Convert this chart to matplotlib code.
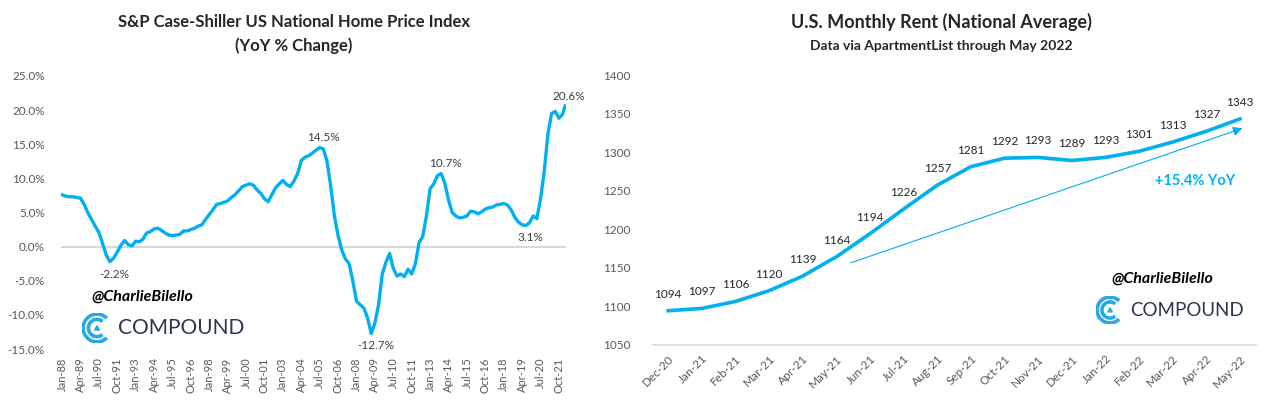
import numpy as np
import pandas as pd
import matplotlib
matplotlib.use('Agg')
import matplotlib.pyplot as plt
from matplotlib.patches import Arc, Polygon

plt.rcParams['font.family'] = ['Lato', 'DejaVu Sans']

# --- Case-Shiller YoY % (quarterly readings, Jan-88 .. Jan-22, plus Mar-22)
cs_yoy = [
    7.6, 7.4, 7.3, 7.3,   7.2, 7.1, 6.2, 5.0,   4.0, 3.0, 2.1, 0.5,
    -1.2, -2.2, -1.7, -0.8,   0.2, 0.9, 0.3, 0.1,   0.8, 0.7, 1.1, 2.0,
    2.2, 2.6, 2.7, 2.4,   2.0, 1.7, 1.6, 1.7,   1.8, 2.3, 2.3, 2.5,
    2.7, 3.0, 3.2, 4.0,   4.7, 5.4, 6.2, 6.3,   6.5, 6.7, 7.2, 7.6,
    8.2, 8.8, 9.0, 9.2,   9.0, 8.3, 7.8, 7.0,   6.6, 7.6, 8.6, 9.2,
    9.7, 9.1, 8.8, 9.6,   10.7, 12.6, 13.1, 13.3,   13.7, 14.1, 14.5, 14.3,
    12.5, 8.8, 4.5, 1.6,   -0.5, -1.8, -2.5, -5.0,   -8.0, -8.5, -9.0, -10.4,
    -12.7, -11.2, -8.5, -4.0,   -2.3, -1.0, -3.2, -4.3,   -4.0, -4.4, -3.3, -4.0,
    -2.5, 0.6, 1.5, 4.5,   8.5, 9.2, 10.4, 10.7,   9.3, 6.8, 5.0, 4.5,
    4.2, 4.3, 4.5, 5.2,   5.1, 4.8, 5.1, 5.5,   5.7, 5.8, 6.1, 6.2,
    6.3, 6.1, 5.4, 4.3,   3.6, 3.2, 3.1, 3.5,   4.5, 4.1, 7.0, 11.0,
    16.5, 19.5, 19.8, 18.8,   19.4, 20.6,
]
cs_dates = list(pd.date_range('1988-01-01', '2022-01-01', freq='QS')) + [pd.Timestamp('2022-03-01')]
cs_notes = {'1991-04-01': '-2.2%', '2005-07-01': '14.5%', '2009-01-01': '-12.7%',
            '2013-10-01': '10.7%', '2019-07-01': '3.1%', '2022-03-01': '20.6%'}

# --- ApartmentList national average rent
rent_months = ['Dec-20', 'Jan-21', 'Feb-21', 'Mar-21', 'Apr-21', 'May-21', 'Jun-21', 'Jul-21',
               'Aug-21', 'Sep-21', 'Oct-21', 'Nov-21', 'Dec-21', 'Jan-22', 'Feb-22', 'Mar-22',
               'Apr-22', 'May-22']
rent = [1094, 1097, 1106, 1120, 1139, 1164, 1194, 1226, 1257, 1281, 1292, 1293, 1289, 1293,
        1301, 1313, 1327, 1343]

BLUE = '#00B0F0'
TXT = '#404040'
TICK = '#595959'


def month_idx(d):
    return (d.year - 1988) * 12 + d.month - 1


def draw_logo(fig, cx, cy, r, fs):
    # Compound logo: concentric "C" arcs + little triangle, then the word
    W, H = fig.get_size_inches() * fig.dpi
    ax = fig.add_axes([(cx - r) / W, 1 - (cy + r) / H, 2 * r / W, 2 * r / H])
    ax.set_xlim(-1, 1)
    ax.set_ylim(-1, 1)
    ax.axis('off')
    ax.add_patch(Arc((0, 0), 1.85, 1.85, theta1=45, theta2=315, color='#29A9E1', lw=2.6))
    ax.add_patch(Arc((0, 0), 1.15, 1.15, theta1=50, theta2=310, color='#29A9E1', lw=2.6))
    ax.add_patch(Polygon([[-0.16, -0.14], [0.16, -0.14], [0, 0.16]], color='#29A9E1'))
    fig.text((cx + r + 6) / W, 1 - cy / H, 'COMPOUND', fontsize=fs, color='#2B3550',
             va='center', ha='left', family=['Lato', 'DejaVu Sans'])


fig = plt.figure(figsize=(12.72, 4.0), dpi=100)

# ---------------- left: Case-Shiller
ax1 = fig.add_axes([61.4 / 1272, 1 - 349.1 / 400, 504.3 / 1272, 273.2 / 400])
xm = [month_idx(d) for d in cs_dates]
ax1.axhline(0, color='#D9D9D9', lw=1.6, zorder=1)
ax1.plot(xm, cs_yoy, color=BLUE, lw=2.4, zorder=3)
ax1.set_xlim(-0.5, 410.5)
ax1.set_ylim(-15, 25)
ax1.set_yticks(np.arange(-15, 26, 5))
ax1.set_yticklabels([f'{v:.1f}%' for v in np.arange(-15, 26, 5)])
tick_dates = pd.date_range('1988-01-01', '2021-10-01', freq='15MS')
ax1.set_xticks([month_idx(d) for d in tick_dates])
ax1.set_xticklabels([d.strftime('%b-%y') for d in tick_dates], rotation=90)
ax1.tick_params(axis='both', length=0, colors=TICK)
ax1.tick_params(axis='y', pad=12, labelsize=8.5)
ax1.tick_params(axis='x', pad=6, labelsize=8)
for s in ax1.spines.values():
    s.set_visible(False)

for d, v in zip(cs_dates, cs_yoy):
    key = d.strftime('%Y-%m-%d')
    if key in cs_notes:
        below = v < 4
        ax1.annotate(cs_notes[key], (month_idx(d), v), xytext=(3, -5 if below else 3),
                     textcoords='offset points', ha='center',
                     va='top' if below else 'bottom', fontsize=8.5, color=TXT)

fig.text(294 / 1272, 1 - 22 / 400, 'S&P Case-Shiller US National Home Price Index',
         ha='center', va='center', fontsize=12, weight='bold', color='#262626')
fig.text(294 / 1272, 1 - 46 / 400, '(YoY % Change)',
         ha='center', va='center', fontsize=12, weight='bold', color='#262626')
fig.text(142 / 1272, 1 - 297 / 400, '@CharlieBilello', ha='center', va='center',
         fontsize=11.5, style='italic', weight='bold', color='black')
draw_logo(fig, 97, 328, 15, 15)

# ---------------- right: rent
ax2 = fig.add_axes([652.7 / 1272, 1 - 344.6 / 400, 602.8 / 1272, 269.6 / 400])
xr = np.arange(len(rent))
ax2.plot(xr, rent, color=BLUE, lw=2.6, zorder=3)
for x, v in zip(xr, rent):
    ax2.annotate(str(v), (x, v), xytext=(0, 8), textcoords='offset points',
                 ha='center', va='bottom', fontsize=8.5, color='#262626')
ax2.annotate('', xy=(17.15, 1332), xytext=(5.35, 1155),
             arrowprops=dict(arrowstyle='-|>', color=BLUE, lw=0.8, mutation_scale=14))
ax2.text(15.66, 1262, '+15.4% YoY', ha='center', va='center', fontsize=10.5,
         weight='bold', color=BLUE)
ax2.set_xlim(-0.46, 17.46)
ax2.set_ylim(1050, 1400)
ax2.set_yticks(np.arange(1050, 1401, 50))
ax2.set_xticks(xr)
ax2.set_xticklabels(rent_months, rotation=45, ha='right', rotation_mode='anchor')
ax2.tick_params(axis='both', length=0, colors=TICK)
ax2.tick_params(axis='y', pad=16, labelsize=8.5)
ax2.tick_params(axis='x', pad=6, labelsize=8.5)
for k, s in ax2.spines.items():
    s.set_visible(k == 'bottom')
ax2.spines['bottom'].set_color('#D9D9D9')
ax2.spines['bottom'].set_linewidth(1.2)

fig.text(941 / 1272, 1 - 22 / 400, 'U.S. Monthly Rent (National Average)',
         ha='center', va='center', fontsize=13, weight='bold', color='#262626')
fig.text(941 / 1272, 1 - 46 / 400, 'Data via ApartmentList through May 2022',
         ha='center', va='center', fontsize=10, weight='bold', color='#262626')
fig.text(1162 / 1272, 1 - 279 / 400, '@CharlieBilello', ha='center', va='center',
         fontsize=11.5, style='italic', weight='bold', color='black')
draw_logo(fig, 1110, 310, 14, 13.5)

fig.savefig('out.png', dpi=100, facecolor='white')
